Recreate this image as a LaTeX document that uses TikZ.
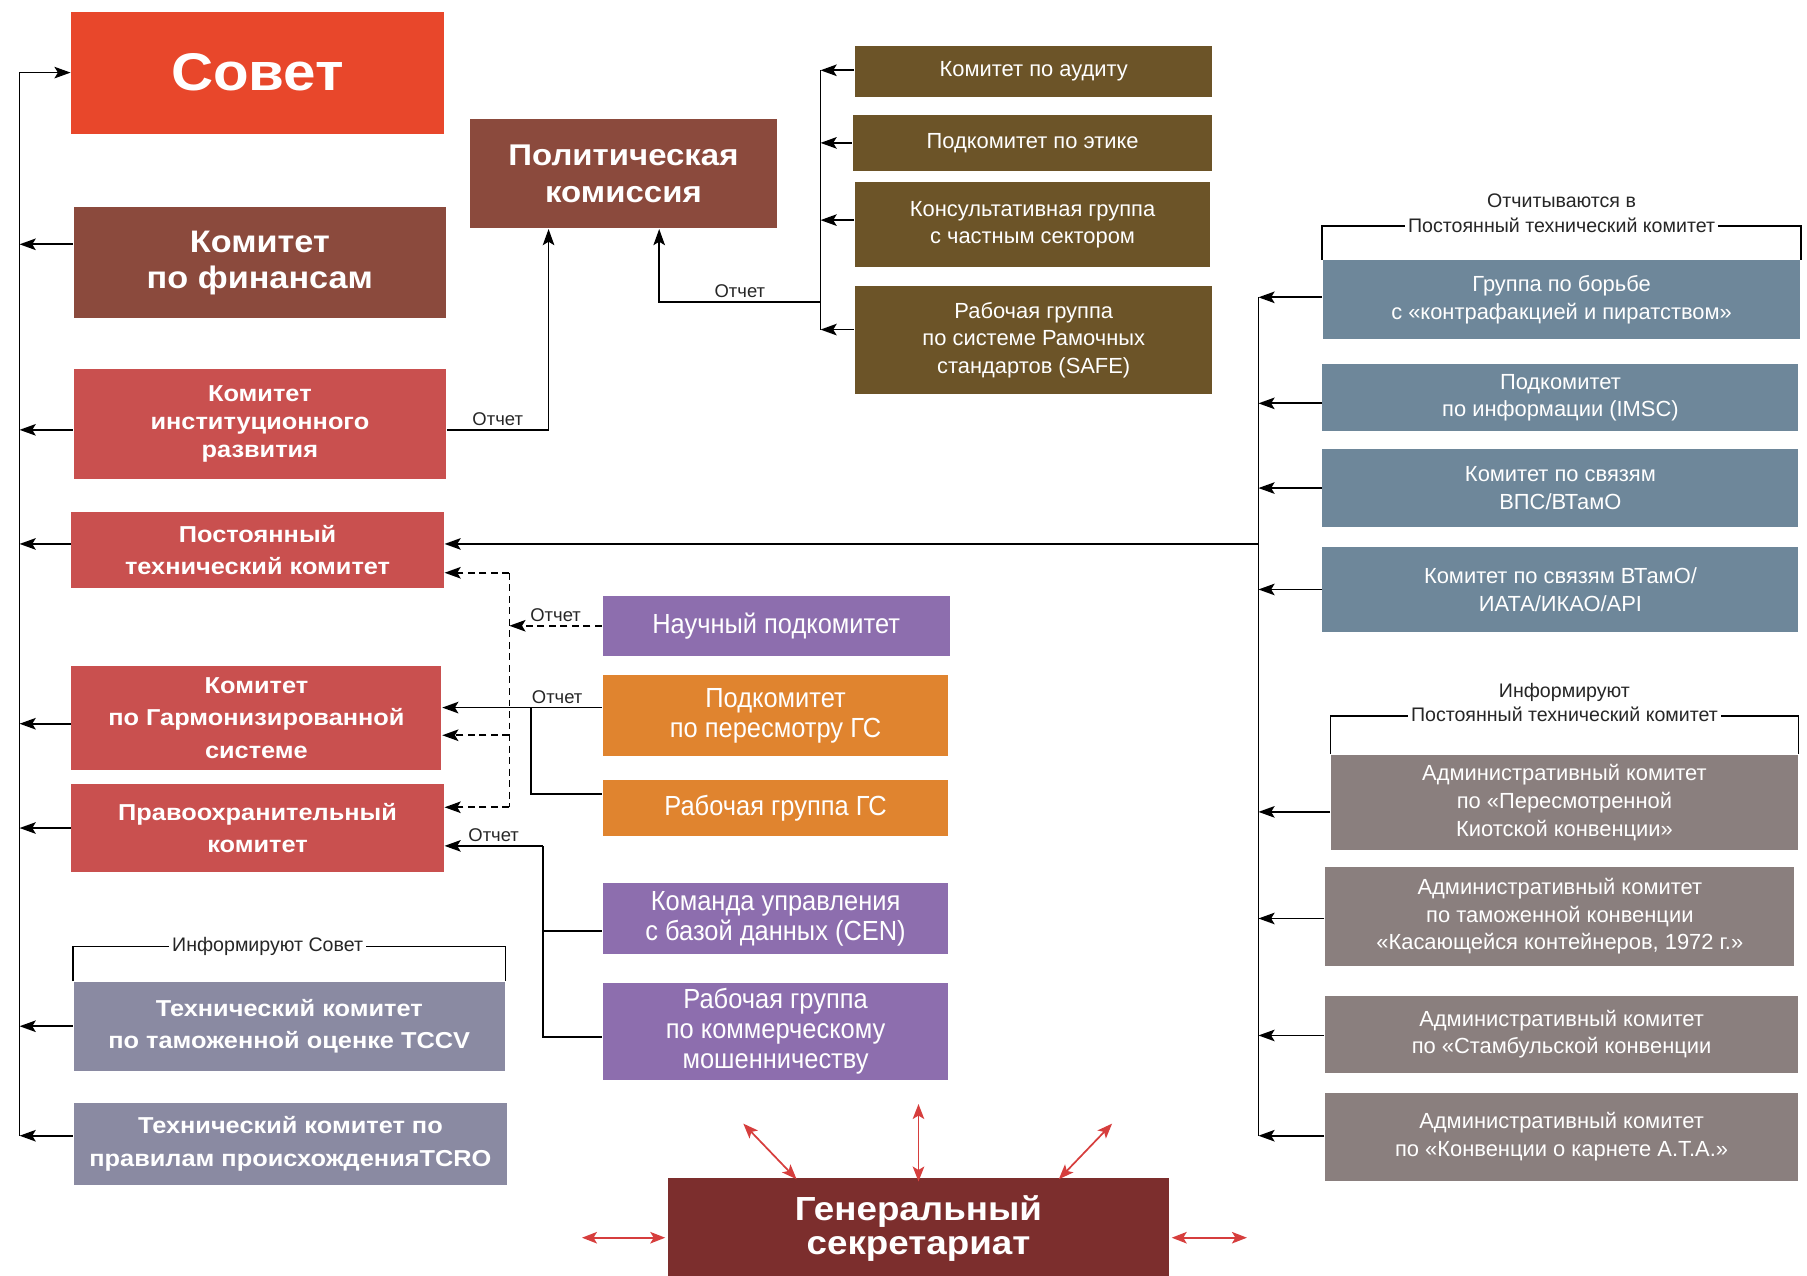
\documentclass[tikz,border=0pt]{standalone}
\usepackage{fontspec}
\setmainfont{Liberation Sans}
\newfontfamily\heavyfont[FakeStretch=1.1]{Liberation Sans}
\newfontfamily\narrowfont[FakeStretch=0.92]{Liberation Sans}
\usetikzlibrary{arrows.meta,positioning}
\definecolor{sovetred}{HTML}{E8472B}
\definecolor{finbrown}{HTML}{8B4A3D}
\definecolor{redbox}{HTML}{C9504F}
\definecolor{slatebox}{HTML}{8A8AA2}
\definecolor{olivebox}{HTML}{6C5428}
\definecolor{bluebox}{HTML}{6E879A}
\definecolor{graybox}{HTML}{8A7F7E}
\definecolor{purplebox}{HTML}{8D6EAE}
\definecolor{orangebox}{HTML}{E0842F}
\definecolor{secbox}{HTML}{7C2E2D}
\definecolor{secarrowred}{HTML}{D63E3D}
\begin{document}
\begin{tikzpicture}[x=1pt,y=-1pt,line width=1.5pt,>={Stealth[length=14pt,width=10pt,inset=3pt]}]
    \tikzstyle{box}=[rectangle,inner sep=0pt,text=white,align=center]
    \tikzstyle{heavy}=[box,font=\heavyfont\bfseries\fontsize{20}{28}\selectfont]
    \tikzstyle{narrow}=[box,font=\narrowfont\fontsize{24}{26}\selectfont]
    \tikzstyle{plain}=[box,font=\fontsize{19}{24}\selectfont]
    \tikzstyle{report}=[font=\fontsize{16}{18}\selectfont,text=black!85,inner sep=3pt]
    \tikzstyle{bracket}=[font=\fontsize{17}{21}\selectfont,text=black!85,fill=white,inner sep=3pt,align=center]
    \tikzstyle{secarrow}=[{Stealth[length=13pt,width=10pt,inset=3pt]}-{Stealth[length=13pt,width=10pt,inset=3pt]},draw=secarrowred,fill=secarrowred]

    \useasboundingbox (0,0) rectangle (1568,1107);

    \node[heavy,fill=sovetred,minimum width=323pt,minimum height=106pt,font=\heavyfont\bfseries\fontsize{46}{50}\selectfont] (sovet) at (223.5,63) {Совет};
    \node[heavy,fill=finbrown,minimum width=323pt,minimum height=96pt,font=\heavyfont\bfseries\fontsize{27}{31}\selectfont] (finance) at (225.5,228) {Комитет\\по финансам};
    \node[heavy,fill=redbox,minimum width=323pt,minimum height=96pt,font=\heavyfont\bfseries\fontsize{20}{24}\selectfont] (instdev) at (225.5,368) {Комитет\\институционного\\развития};
    \node[heavy,fill=redbox,minimum width=323pt,minimum height=66pt] (ptk) at (223.5,477) {Постоянный\\технический комитет};
    \node[heavy,fill=redbox,minimum width=321pt,minimum height=90pt] (hscom) at (222.5,623) {Комитет\\по Гармонизированной\\системе};
    \node[heavy,fill=redbox,minimum width=323pt,minimum height=77pt] (enforce) at (223.5,718.5) {Правоохранительный\\комитет};
    \node[heavy,fill=slatebox,minimum width=374pt,minimum height=77pt] (tccv) at (251,890.5) {Технический комитет\\по таможенной оценке TCCV};
    \node[heavy,fill=slatebox,minimum width=376pt,minimum height=71pt] (tcro) at (252,992.5) {Технический комитет по\\правилам происхожденияTCRO};

    \node[heavy,fill=finbrown,minimum width=266pt,minimum height=95pt,font=\heavyfont\bfseries\fontsize{26}{32}\selectfont] (policy) at (541,150.5) {Политическая\\комиссия};

    \node[plain,fill=olivebox,minimum width=310pt,minimum height=44pt] (audit) at (897,62) {Комитет по аудиту};
    \node[plain,fill=olivebox,minimum width=312pt,minimum height=48pt] (ethics) at (896,124) {Подкомитет по этике};
    \node[plain,fill=olivebox,minimum width=308pt,minimum height=74pt] (private) at (896,195) {Консультативная группа\\с частным сектором};
    \node[plain,fill=olivebox,minimum width=310pt,minimum height=94pt] (safe) at (897,295) {Рабочая группа\\по системе Рамочных\\стандартов (SAFE)};

    \node[plain,fill=bluebox,minimum width=414pt,minimum height=68pt] (piracy) at (1355,260) {Группа по борьбе\\с «контрафакцией и пиратством»};
    \node[plain,fill=bluebox,minimum width=413pt,minimum height=58pt] (imsc) at (1354,345) {Подкомитет\\по информации (IMSC)};
    \node[plain,fill=bluebox,minimum width=413pt,minimum height=67pt] (upu) at (1354,423.5) {Комитет по связям\\ВПС/ВТамО};
    \node[plain,fill=bluebox,minimum width=413pt,minimum height=73pt] (iata) at (1354,511.5) {Комитет по связям ВТамО/\\ИАТА/ИКАО/API};

    \node[plain,fill=graybox,minimum width=405pt,minimum height=83pt] (kyoto) at (1357.5,696.5) {Административный комитет\\по «Пересмотренной\\Киотской конвенции»};
    \node[plain,fill=graybox,minimum width=407pt,minimum height=86pt] (container) at (1353.5,795) {Административный комитет\\по таможенной конвенции\\«Касающейся контейнеров, 1972 г.»};
    \node[plain,fill=graybox,minimum width=410pt,minimum height=67pt] (istanbul) at (1355,897.5) {Административный комитет\\по «Стамбульской конвенции};
    \node[plain,fill=graybox,minimum width=410pt,minimum height=77pt] (ata) at (1355,986.5) {Административный комитет\\по «Конвенции о карнете А.Т.А.»};

    \node[narrow,fill=purplebox,minimum width=301pt,minimum height=52pt] (science) at (673.5,543) {Научный подкомитет};
    \node[narrow,fill=orangebox,minimum width=300pt,minimum height=70pt] (hsreview) at (673,621) {Подкомитет\\по пересмотру ГС};
    \node[narrow,fill=orangebox,minimum width=300pt,minimum height=48pt] (hsgroup) at (673,701) {Рабочая группа ГС};
    \node[narrow,fill=purplebox,minimum width=300pt,minimum height=62pt] (cen) at (673,797) {Команда управления\\с базой данных (CEN)};
    \node[narrow,fill=purplebox,minimum width=300pt,minimum height=84pt] (fraud) at (673,895) {Рабочая группа\\по коммерческому\\мошенничеству};

    \node[heavy,fill=secbox,minimum width=434pt,minimum height=88pt,font=\heavyfont\bfseries\fontsize{29}{29}\selectfont] (secretariat) at (797,1066) {Генеральный\\секретариат};

    \coordinate (ltrunk) at (17,63);
    \draw[->] ([yshift=7pt]tcro.west -| ltrunk) -- (ltrunk) -- (sovet.west);
    \foreach \b/\s in {finance/16,instdev/-5,ptk/5,hscom/-5,enforce/0,tccv/0,tcro/7}
    \draw[->] ([yshift=\s pt]\b.west) -- ([yshift=\s pt]\b.west -| ltrunk);

    \coordinate (pol-a) at ([xshift=-65pt]policy.south);
    \draw[->] ([yshift=-5pt]instdev.east) -- node[report,above] {Отчет} ([yshift=-5pt]instdev.east -| pol-a) -- (pol-a);

    \coordinate (otrunk) at (712,262);
    \coordinate (pol-b) at ([xshift=31pt]policy.south);
    \draw ([yshift=1pt]audit.west -| otrunk) -- ([yshift=9pt]safe.west -| otrunk);
    \foreach \b/\s in {audit/1,ethics/0,private/4,safe/9}
    \draw[->] ([yshift=\s pt]\b.west) -- ([yshift=\s pt]\b.west -| otrunk);
    \draw[->] (otrunk) -- node[report,above] {Отчет} (otrunk -| pol-b) -- (pol-b);

    \coordinate (rtrunk) at (1092,472);
    \draw ([yshift=2pt]piracy.west -| rtrunk) -- ([yshift=1pt]ata.west -| rtrunk);
    \foreach \b/\s in {piracy/2,imsc/-5,upu/0,iata/0,kyoto/-8,container/-2,istanbul/-1,ata/1}
    \draw[->] ([yshift=\s pt]\b.west) -- ([yshift=\s pt]\b.west -| rtrunk);
    \draw[->] (rtrunk) -- ([yshift=5pt]ptk.east);

    \coordinate (dtrunk) at (442,543);
    \draw[dash pattern=on 6pt off 4pt] ([yshift=-20pt]ptk.east -| dtrunk) -- ([yshift=18pt]enforce.east -| dtrunk);
    \draw[dash pattern=on 6pt off 4pt,->] ([yshift=-20pt]ptk.east -| dtrunk) -- ([yshift=-20pt]ptk.east);
    \draw[dash pattern=on 6pt off 4pt,->] ([yshift=-15pt]hscom.east -| dtrunk) -- ([yshift=-15pt]hscom.east);
    \draw[dash pattern=on 6pt off 4pt,->] ([yshift=18pt]enforce.east -| dtrunk) -- ([yshift=18pt]enforce.east);
    \draw[dash pattern=on 6pt off 4pt,->] (science.west) -- node[report,above] {Отчет} (science.west -| dtrunk);

    \coordinate (hsjoin) at (461,614);
    \draw[->] ([yshift=7pt]hsreview.west) -- node[report,above,pos=0.28] {Отчет} ([yshift=7pt]hsreview.west -| hscom.east);
    \draw ([yshift=12pt]hsgroup.west) -| (hsjoin);

    \coordinate (ejoin) at (471,734);
    \draw ([yshift=-5pt]fraud.west) -| (ejoin);
    \draw ([yshift=-11pt]cen.west) -- ([yshift=-11pt]cen.west -| ejoin);
    \draw[->] (ejoin) -- node[report,above] {Отчет} (ejoin -| enforce.east);

    \draw[line width=1.2pt] (tccv.north west) -- ++(0,-30) coordinate (tb) -- node[bracket,pos=0.45] {Информируют Совет} (tb -| tccv.north east) -- (tccv.north east);
    \draw[line width=1.2pt] (piracy.north west) -- ++(0,-29) coordinate (pb) -- node[bracket,anchor=south,yshift=-9pt] {Отчитываются в\\Постоянный технический комитет} (pb -| piracy.north east) -- (piracy.north east);
    \draw[line width=1.2pt] (kyoto.north west) -- ++(0,-33) coordinate (kb) -- node[bracket,anchor=south,yshift=-9pt] {Информируют\\Постоянный технический комитет} (kb -| kyoto.north east) -- (kyoto.north east);

    \coordinate (sa-1) at (505,1074);
    \coordinate (sa-2) at (645,975);
    \coordinate (sa-3) at (797,958);
    \coordinate (sa-4) at (965,975);
    \coordinate (sa-5) at (1082,1074);
    \draw[secarrow] ([yshift=-8pt,xshift=-2pt]secretariat.west) -- (sa-1);
    \draw[secarrow] ([xshift=112pt,yshift=-2pt]secretariat.north west) -- (sa-2);
    \draw[secarrow] ([yshift=-4pt]secretariat.north) -- (sa-3);
    \draw[secarrow] ([xshift=-96pt,yshift=-2pt]secretariat.north east) -- (sa-4);
    \draw[secarrow] ([yshift=-8pt,xshift=2pt]secretariat.east) -- (sa-5);
\end{tikzpicture}
\end{document}
